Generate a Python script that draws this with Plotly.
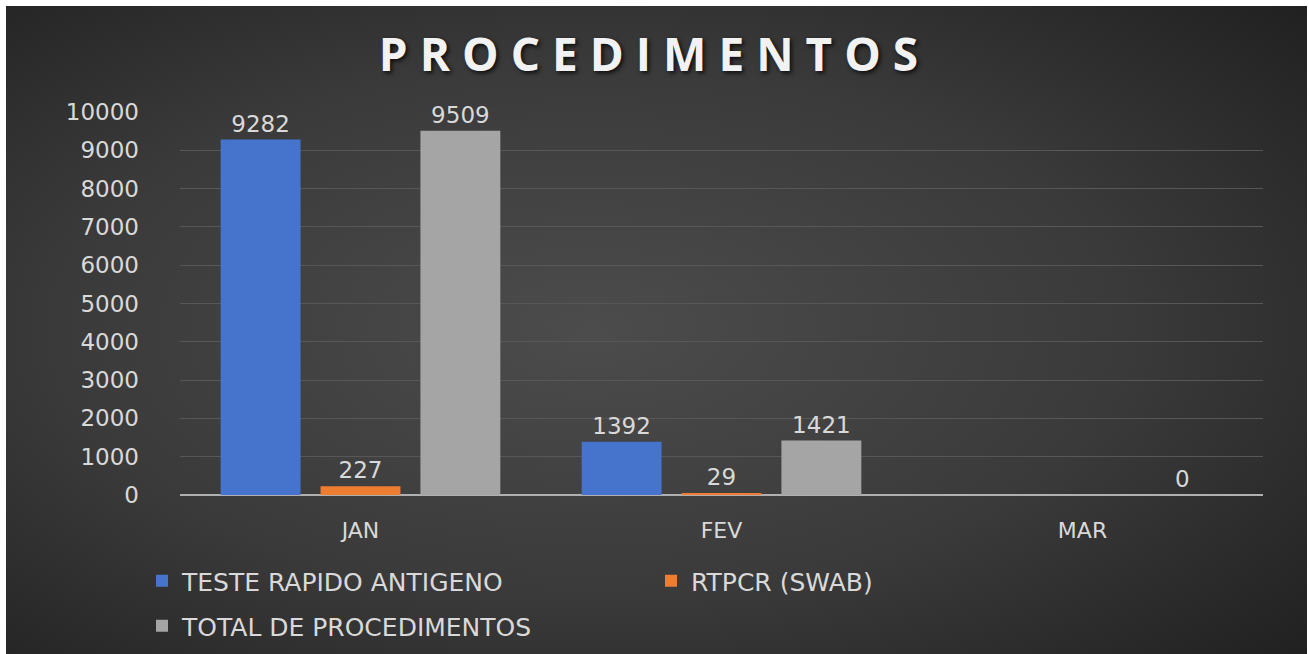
import base64
import plotly.graph_objects as go

categories = ["JAN", "FEV", "MAR"]
teste_rapido = [9282, 1392, None]
rtpcr = [227, 29, None]
total = [9509, 1421, 0]
series_names = ["TESTE RAPIDO ANTIGENO", "RTPCR (SWAB)", "TOTAL DE PROCEDIMENTOS"]
y_ticks = [0, 1000, 2000, 3000, 4000, 5000, 6000, 7000, 8000, 9000, 10000]
y_tick_labels = [str(v) for v in y_ticks]

colors = ["#4674cc", "#ed7d31", "#a5a5a5"]
label_color = "#d9d9d9"
FONT = "DejaVu Sans"
W, H = 1309, 654
L, R, T, B = 180, 46, 112, 159
pw, ph = W - L - R, H - T - B

svg = f'''<svg xmlns="http://www.w3.org/2000/svg" width="{W}" height="{H}" viewBox="0 0 {W} {H}" preserveAspectRatio="none">
<defs><radialGradient id="g" cx="0.45" cy="0.5" r="0.75">
<stop offset="0" stop-color="#4c4c4c"/><stop offset="0.55" stop-color="#3a3a3a"/><stop offset="1" stop-color="#202020"/>
</radialGradient></defs><rect width="{W}" height="{H}" fill="url(#g)"/></svg>'''
bg = "data:image/svg+xml;base64," + base64.b64encode(svg.encode()).decode()

fig = go.Figure()
legend_ids = ["legend", "legend", "legend2"]
for name, vals, col, lg in zip(series_names, [teste_rapido, rtpcr, total], colors, legend_ids):
    fig.add_trace(go.Bar(
        x=categories, y=vals, name=name, legend=lg,
        marker=dict(color=col, line=dict(width=0)),
        text=[("" if v is None else str(v)) for v in vals], textposition="outside",
        textfont=dict(color=label_color, size=23, family=FONT),
        cliponaxis=False,
    ))

x0_px, y0_px = 6, 6
fig.add_layout_image(dict(
    source=bg, xref="paper", yref="paper",
    x=(x0_px - L) / pw, y=1 + (T - y0_px) / ph,
    sizex=(W - 2 - x0_px) / pw, sizey=(H - y0_px) / ph,
    sizing="stretch", xanchor="left", yanchor="top", layer="below",
))

legend_common = dict(orientation="h", xref="container", yref="container",
                     x=142 / W, xanchor="left", yanchor="top",
                     font=dict(size=25, color=label_color, family=FONT),
                     entrywidth=464, bgcolor="rgba(0,0,0,0)", traceorder="normal")

fig.update_layout(
    width=W, height=H,
    margin=dict(l=L, r=R, t=T, b=B),
    paper_bgcolor="white", plot_bgcolor="rgba(0,0,0,0)",
    barmode="group", bargap=0.17, bargroupgap=0.2,
    title=dict(text="<b>PROCEDIMENTOS</b>", x=0.5, xref="container", xanchor="center",
               y=1 - 55 / H, yref="container", yanchor="middle",
               font=dict(family="Open Sans", size=46, color="#f2f2f2",
                         shadow="2px 2px 4px rgba(0,0,0,0.8)")),
    font=dict(family=FONT, color=label_color),
    showlegend=True,
    legend=dict(legend_common, y=1 - 558 / H),
    legend2=dict(legend_common, y=1 - 603 / H),
    xaxis=dict(showgrid=False, showline=False, ticks="", ticklabelstandoff=20,
               tickfont=dict(size=22, color=label_color, family=FONT)),
    yaxis=dict(range=[0, 10000], tickvals=y_ticks, ticktext=y_tick_labels,
               showgrid=True, gridcolor="#575757",
               gridwidth=1, zeroline=True, zerolinecolor="#b0b0b0", zerolinewidth=2,
               showline=False, ticks="", ticklabelstandoff=40,
               tickfont=dict(size=23, color=label_color, family=FONT)),
)

post = """
document.body.style.margin = '0';
var t = document.querySelector('.gtitle');
if (t) { t.style.letterSpacing = '12px'; }
"""
fig.write_html("out.html", post_script=post, config={"displayModeBar": False})
